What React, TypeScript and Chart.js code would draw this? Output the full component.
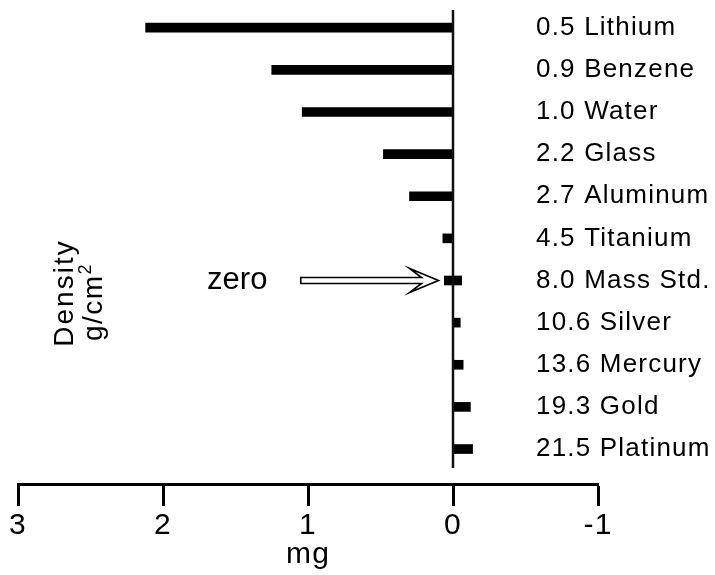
import React, { useEffect, useRef } from 'react';
import { Chart, registerables } from 'chart.js';

Chart.register(...registerables);

// ---- data ----
const materials = [
  '0.5 Lithium',
  '0.9 Benzene',
  '1.0 Water',
  '2.2 Glass',
  '2.7 Aluminum',
  '4.5 Titanium',
  '8.0 Mass Std.',
  '10.6 Silver',
  '13.6 Mercury',
  '19.3 Gold',
  '21.5 Platinum',
];
// mass difference in mg (mass standard drawn as a small marker straddling zero)
const massDiff: (number | [number, number])[] = [
  2.12, 1.25, 1.04, 0.48, 0.3, 0.07, [0.06, -0.06], -0.05, -0.07, -0.12, -0.135,
];
const xTickValues = [3, 2, 1, 0, -1];
const xTitle = 'mg';
const yTitle1 = 'Density';
const yTitle2 = 'g/cm';
const yTitleSup = '2';
const zeroLabel = 'zero';
const zeroIndex = 6;

const FONT = '"Liberation Sans", Arial, Helvetica, sans-serif';

const annotPlugin = {
  id: 'annot',
  beforeDraw(chart: any) {
    chart.ctx.letterSpacing = '1.2px';
  },
  afterDraw(chart: any) {
    const { ctx } = chart;
    const x = chart.scales.x;
    const y = chart.scales.y;
    ctx.save();
    ctx.letterSpacing = '0px';

    // zero line
    const x0 = x.getPixelForValue(0);
    ctx.strokeStyle = '#111';
    ctx.lineWidth = 2.5;
    ctx.beginPath();
    ctx.moveTo(x0, y.getPixelForValue(-0.42));
    ctx.lineTo(x0, y.getPixelForValue(10.45));
    ctx.stroke();

    // arrow pointing at the mass standard
    const yA = y.getPixelForValue(zeroIndex);
    const tail = x.getPixelForValue(1.05);
    const tip = x.getPixelForValue(0.1);
    const base = x.getPixelForValue(0.3);
    const neck = base + 12;
    ctx.beginPath();
    ctx.moveTo(tail, yA - 3);
    ctx.lineTo(neck, yA - 3);
    ctx.lineTo(base, yA - 12);
    ctx.lineTo(tip, yA);
    ctx.lineTo(base, yA + 12);
    ctx.lineTo(neck, yA + 3);
    ctx.lineTo(tail, yA + 3);
    ctx.closePath();
    ctx.fillStyle = '#fff';
    ctx.fill();
    ctx.strokeStyle = '#000';
    ctx.lineWidth = 1.6;
    ctx.lineJoin = 'miter';
    ctx.stroke();

    // "zero" text
    ctx.fillStyle = '#000';
    ctx.font = `31px ${FONT}`;
    ctx.textAlign = 'right';
    ctx.textBaseline = 'alphabetic';
    ctx.fillText(zeroLabel, x.getPixelForValue(1.28), yA + 8.5);

    // rotated density title
    ctx.save();
    ctx.translate(73, 293);
    ctx.rotate(-Math.PI / 2);
    ctx.font = `28px ${FONT}`;
    ctx.letterSpacing = '2px';
    ctx.textAlign = 'center';
    ctx.fillText(yTitle1, 0, 0);
    ctx.restore();

    ctx.save();
    ctx.translate(102, 302);
    ctx.rotate(-Math.PI / 2);
    ctx.letterSpacing = '1.5px';
    ctx.font = `28px ${FONT}`;
    const w1 = ctx.measureText(yTitle2).width;
    ctx.font = `18px ${FONT}`;
    const w2 = ctx.measureText(yTitleSup).width;
    const start = -(w1 + w2) / 2;
    ctx.textAlign = 'left';
    ctx.font = `28px ${FONT}`;
    ctx.fillText(yTitle2, start, 0);
    ctx.font = `18px ${FONT}`;
    ctx.fillText(yTitleSup, start + w1, -11);
    ctx.restore();

    ctx.restore();
  },
};

export default function App() {
  const ref = useRef<HTMLCanvasElement | null>(null);

  useEffect(() => {
    if (!ref.current) return;
    const chart = new Chart(ref.current, {
      type: 'bar',
      data: {
        datasets: [
          {
            data: materials.map((_, i) => ({ x: massDiff[i], y: i })) as any,
            backgroundColor: '#000',
            borderWidth: 0,
            barThickness: 9,
          },
        ],
      },
      options: {
        indexAxis: 'y',
        animation: false,
        responsive: true,
        maintainAspectRatio: false,
        layout: { padding: { left: 18, top: 6, right: 0, bottom: 0 } },
        plugins: { legend: { display: false }, tooltip: { enabled: false } },
        scales: {
          x: {
            type: 'linear',
            reverse: true,
            min: -1,
            max: 3,
            afterBuildTicks: (s: any) => {
              s.ticks = xTickValues.map((v) => ({ value: v }));
            },
            ticks: {
              color: '#000',
              font: { family: FONT, size: 30 },
              padding: 2,
              maxRotation: 0,
            },
            grid: {
              display: true,
              drawOnChartArea: false,
              drawTicks: true,
              tickLength: 22,
              tickWidth: 3,
              tickColor: '#000',
            },
            border: { display: true, width: 3, color: '#000' },
            title: {
              display: true,
              text: xTitle,
              color: '#000',
              font: { family: FONT, size: 30 },
              padding: { top: 0, bottom: 2 },
            },
            afterFit: (s: any) => {
              s.height = 91;
            },
          },
          y: {
            type: 'linear',
            position: 'right',
            reverse: true,
            offset: false,
            min: -0.515,
            max: 10.83,
            afterBuildTicks: (s: any) => {
              s.ticks = materials.map((_, i) => ({ value: i }));
            },
            ticks: {
              autoSkip: false,
              color: '#000',
              font: { family: FONT, size: 26 },
              padding: -62,
              callback: (v: any) => materials[v as number],
            },
            grid: { display: false, drawTicks: false, offset: false },
            border: { display: false },
            afterFit: (s: any) => {
              s.width = 117;
              // labels start inside the plot area; do not clip them to the axis box
              s._computeLabelArea = () => undefined;
            },
          },
        },
      },
      plugins: [annotPlugin],
    });
    return () => chart.destroy();
  }, []);

  return (
    <div style={{ position: 'absolute', left: 0, top: 0, width: 715, height: 575, background: '#fff' }}>
      <canvas ref={ref} />
    </div>
  );
}
